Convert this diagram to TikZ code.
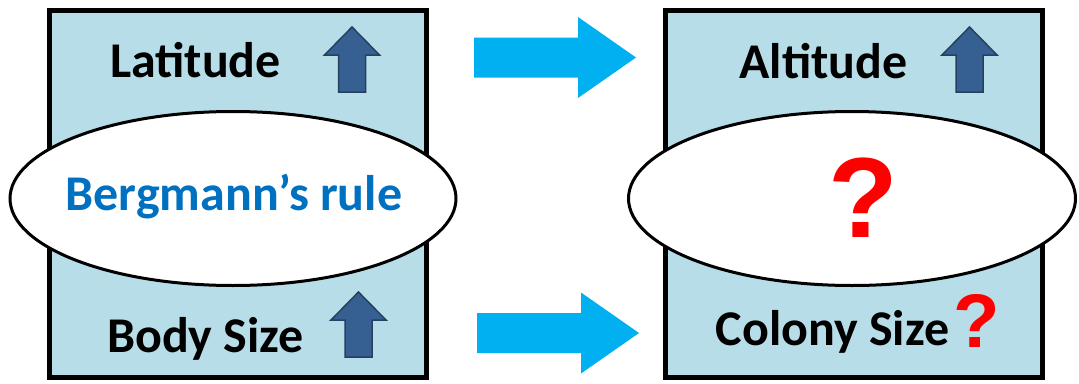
\documentclass[tikz,border=0pt]{standalone}
\usepackage{fontspec}
\setmainfont{Carlito}
\newfontfamily\qfont{Liberation Sans}
\usetikzlibrary{shapes.geometric}
\definecolor{boxfill}{RGB}{183,222,232}
\definecolor{bluearrow}{RGB}{0,176,240}
\definecolor{upfill}{RGB}{55,96,146}
\definecolor{upline}{RGB}{37,64,97}
\definecolor{rulecol}{RGB}{0,112,192}
\definecolor{qred}{RGB}{255,0,0}
\tikzset{
  panel/.style={draw=black, line width=4.5pt, fill=boxfill, minimum width=377pt, minimum height=367pt, inner sep=0pt},
  oval/.style={ellipse, draw=black, line width=3pt, fill=white, minimum width=446pt, minimum height=174pt, inner sep=0pt},
  label/.style={font=\bfseries\fontsize{50}{60}\selectfont, anchor=base, inner sep=0pt},
  uparr/.pic={\draw[fill=upfill, draw=upline, line width=1.5pt, line join=miter]
     (-13.5,65) -- (-13.5,28) -- (-27.5,28) -- (0,0) -- (27.5,28) -- (13.5,28) -- (13.5,65) -- cycle;},
  bluearr/.pic={\fill[bluearrow]
     (0,-20) -- (104,-20) -- (104,-40.5) -- (162,0) -- (104,40.5) -- (104,20) -- (0,20) -- cycle;}
}
\begin{document}
\begin{tikzpicture}[x=1pt,y=-1pt]
\useasboundingbox (0,0) rectangle (1079,383);
% panels
\node[panel] (lbox) at (238,194) {};
\node[panel] (rbox) at (854,194) {};
% ellipses
\node[oval] (lell) at (233,198.5) {};
\node[oval, minimum width=447pt] (rell) at (852,198.5) {};
% texts
\node[label] (lat) at (195.5,77) {Latitude};
\node[label] (body) at (205.5,352) {Body Size};
\node[label, text=rulecol] (rule) at (234,210) {Bergmann’s rule};
\node[label] (alt) at (823.5,78) {Altitude};
\node[label] (col) at (832.5,345) {Colony Size};
\node[font=\qfont\bfseries\fontsize{114}{120}\selectfont, text=qred, anchor=base, inner sep=0pt] (q1) at (863,237) {?};
\node[font=\qfont\bfseries\fontsize{76}{80}\selectfont, text=qred, anchor=base, inner sep=0pt] (q2) at (977,347) {?};
% up arrows
\pic at (352,27) {uparr};
\pic at (358.5,292) {uparr};
\pic at (969.5,27) {uparr};
% blue arrows
\pic at (474,57.5) {bluearr};
\pic at (477,333) {bluearr};
\end{tikzpicture}
\end{document}
